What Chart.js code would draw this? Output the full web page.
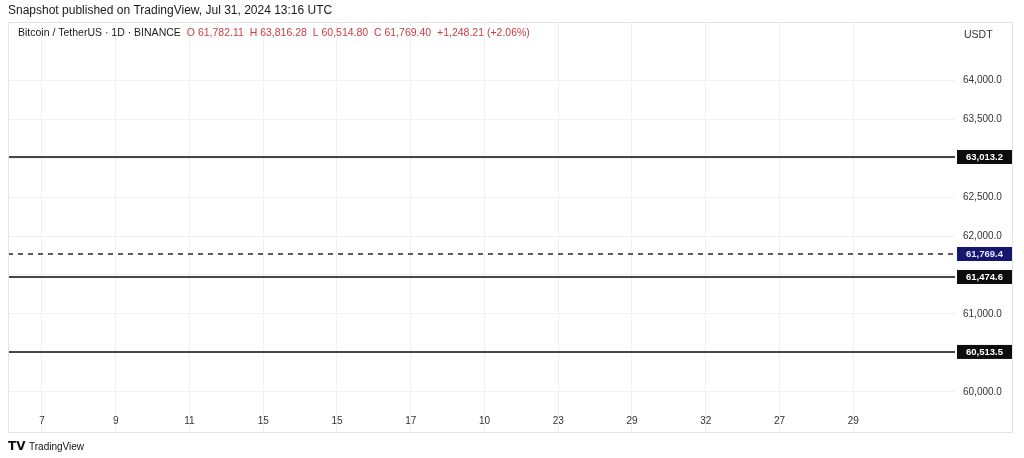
<!DOCTYPE html>
<html>
<head>
<meta charset="utf-8">
<script src="https://cdn.jsdelivr.net/npm/chart.js@4.4.1/dist/chart.umd.min.js"></script>
<style>
  html, body { margin:0; padding:0; background:#ffffff; }
  #wrap { position:relative; width:1024px; height:458px; }
</style>
</head>
<body>
<div id="wrap"><canvas id="levelChart" width="1024" height="458"></canvas></div>
<script>
// x axis day labels (as shown)
const dayLabels = ["7","9","11","15","15","17","10","23","29","32","27","29"];

// price axis ticks
const priceTicks = [60000,60500,61000,61500,62000,62500,63000,63500,64000];
const priceMin = 59769;
const priceMax = 64744;

// horizontal levels (solid) and last price (dashed)
const levelValues = [63013.2, 61474.6, 60513.5];
const lastPrice = 61769.4;

const titleText = "Snapshot published on TradingView, Jul 31, 2024 13:16 UTC";
const symbolText = "Bitcoin / TetherUS · 1D · BINANCE";
const ohlcText = "O 61,782.11  H 63,816.28  L 60,514.80  C 61,769.40  +1,248.21 (+2.06%)";

const xMin = -0.46;
const xMax = 12.38;

function fmt(v){
    return v.toLocaleString("en-US",{minimumFractionDigits:1,maximumFractionDigits:1});
}

const datasets = [];

levelValues.forEach(v=>{
    datasets.push({
        data:[{x:xMin,y:v},{x:xMax,y:v}],
        borderColor:"#0a0a0a",
        borderWidth:1.6,
        pointRadius:0
    });
});

datasets.push({
    data:[{x:xMin,y:lastPrice},{x:xMax,y:lastPrice}],
    borderColor:"#1a1a1a",
    borderWidth:1.4,
    borderDash:[5,5],
    pointRadius:0
});

const decorPlugin = {
    id:"decor",
    afterDraw(chart){
        const ctx = chart.ctx;
        const y = chart.scales.y;
        const area = chart.chartArea;

        ctx.save();

        // frame
        ctx.strokeStyle = "#e4e4e4";
        ctx.lineWidth = 1;
        ctx.strokeRect(8.5, 22.5, 1004, 410);

        // title
        ctx.font = "12px 'Liberation Sans', Arial, sans-serif";
        ctx.fillStyle = "#1a1a1a";
        ctx.textBaseline = "middle";
        ctx.textAlign = "left";
        ctx.fillText(titleText, 8, 11);

        // header line
        ctx.font = "10.5px 'Liberation Sans', Arial, sans-serif";
        ctx.fillStyle = "#1a1a1a";
        ctx.fillText(symbolText, 18, 33);
        const w = ctx.measureText(symbolText).width;
        ctx.fillStyle = "#cc3b46";
        ctx.fillText(ohlcText, 18 + w + 6, 33);

        // currency
        ctx.fillStyle = "#333";
        ctx.fillText("USDT", 964, 35);

        // level labels
        ctx.font = "bold 9.5px 'Liberation Sans', Arial, sans-serif";
        ctx.textAlign = "center";
        levelValues.forEach(v=>{
            const py = y.getPixelForValue(v);
            ctx.fillStyle = "#0d0d0d";
            ctx.fillRect(area.right + 2, py - 7, 55, 14);
            ctx.fillStyle = "#fff";
            ctx.fillText(fmt(v), area.right + 29.5, py);
        });
        const lp = y.getPixelForValue(lastPrice);
        ctx.fillStyle = "#16166e";
        ctx.fillRect(area.right + 2, lp - 7, 55, 14);
        ctx.fillStyle = "#e2e6ff";
        ctx.fillText(fmt(lastPrice), area.right + 29.5, lp);

        // logo
        ctx.textAlign = "left";
        ctx.fillStyle = "#111";
        ctx.font = "900 12px 'DejaVu Sans', sans-serif";
        ctx.fillText("TV", 8, 447);
        ctx.font = "10px 'Liberation Sans', Arial, sans-serif";
        ctx.fillText("TradingView", 29, 447);

        ctx.restore();
    }
};

new Chart(
    document.getElementById("levelChart"),
    {
        type:"line",
        data:{ datasets:datasets },
        options:{
            responsive:false,
            animation:false,
            layout:{
                padding:{ left:8, right:12, top:22, bottom:26 }
            },
            plugins:{
                legend:{ display:false },
                tooltip:{ enabled:false }
            },
            scales:{
                x:{
                    type:"linear",
                    min:xMin,
                    max:xMax,
                    afterBuildTicks:(axis)=>{
                        axis.ticks = dayLabels.map((d,i)=>({value:i}));
                    },
                    afterFit:(axis)=>{ axis.height = 22; },
                    grid:{
                        color:"#f1f1f1",
                        drawTicks:true,
                        tickLength:22
                    },
                    border:{ display:false },
                    ticks:{
                        autoSkip:false,
                        maxRotation:0,
                        padding:-17,
                        color:"#333",
                        font:{ size:10, family:"'Liberation Sans', Arial, sans-serif" },
                        callback:(v)=>dayLabels[v] ?? ""
                    }
                },
                y:{
                    position:"right",
                    min:priceMin,
                    max:priceMax,
                    afterBuildTicks:(axis)=>{
                        axis.ticks = priceTicks.map(v=>({value:v}));
                    },
                    afterFit:(axis)=>{ axis.width = 57; },
                    grid:{
                        color:"#f1f1f1",
                        drawTicks:false
                    },
                    border:{ display:false },
                    ticks:{
                        padding:8,
                        color:"#333",
                        font:{ size:10, family:"'Liberation Sans', Arial, sans-serif" },
                        callback:(v)=>fmt(v)
                    }
                }
            }
        },
        plugins:[decorPlugin]
    }
);
</script>
</body>
</html>
